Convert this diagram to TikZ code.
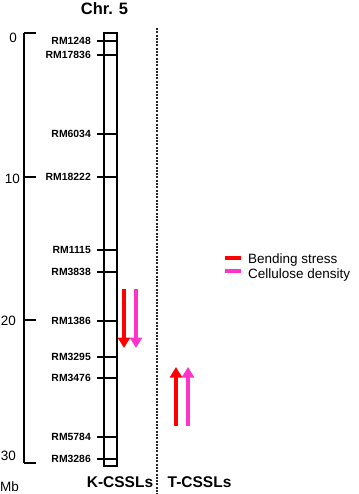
\documentclass[tikz,border=0pt]{standalone}
\usepackage{fontspec}
\setmainfont{Liberation Sans}
\usetikzlibrary{arrows.meta}
\definecolor{qred}{RGB}{255,0,0}
\definecolor{qpink}{RGB}{255,51,204}
\tikzset{
  axisline/.style={line width=1.2pt,black},
  mlabel/.style={anchor=east,inner sep=0pt,font=\fontsize{10.4}{11}\selectfont\bfseries},
  numlabel/.style={anchor=east,inner sep=0pt,font=\fontsize{13.5}{14}\selectfont},
  titlelabel/.style={inner sep=0pt,font=\fontsize{15.5}{17}\selectfont\bfseries},
  legtext/.style={anchor=base west,inner sep=0pt,font=\fontsize{13.5}{15}\selectfont},
  bigarrow/.style={line width=4.5pt,-{Triangle[width=12pt,length=10.5pt]}},
  legbar/.style={line width=4pt},
}
\begin{document}
\begin{tikzpicture}[x=1pt,y=-1pt]
\useasboundingbox (0,0) rectangle (358,494);
% title
\node[titlelabel,font=\fontsize{16.5}{18}\selectfont\bfseries] (title) at (104.5,8.5) {Chr.\hspace{6pt}5};
% Mb axis
\coordinate (atop) at (24,33);
\coordinate (abot) at (24,463);
\draw[axisline] (atop) -- (abot);
\foreach \yy/\name in {33/t0,177/t10,320/t20,463/t30}{
  \coordinate (\name a) at (24,\yy);
  \coordinate (\name b) at (36,\yy);
  \draw[axisline] (\name a) -- (\name b);
}
\node[numlabel] (n0) at (17,38) {0};
\node[numlabel] (n10) at (20,179) {10};
\node[numlabel] (n20) at (16,321) {20};
\node[numlabel] (n30) at (16,456) {30};
\node[numlabel,anchor=west] (mb) at (0,487) {Mb};
% chromosome box
\draw[axisline] (104,33) rectangle (117,466);
\foreach \yy/\lab in {41/RM1248,55/RM17836,134/RM6034,177/RM18222,250/RM1115,272/RM3838,321/RM1386,357/RM3295,378/RM3476,437/RM5784,459/RM3286}{
  \node[mlabel] (\lab) at (91,\yy) {\lab};
  \coordinate (\lab l) at (97,\yy);
  \coordinate (\lab r) at (117,\yy);
  \draw[axisline] (\lab l) -- (\lab r);
}
% dashed separator
\coordinate (dtop) at (157,28);
\coordinate (dbot) at (157,494);
\draw[line width=1.2pt,dash pattern=on 2pt off 1.3pt,black!85] (dtop) -- (dbot);
% bottom labels
\node[titlelabel] (kc) at (120,482.5) {K-CSSLs};
\node[titlelabel] (tc) at (199.5,482.5) {T-CSSLs};
% arrows
\coordinate (kr1) at (124,289); \coordinate (kr2) at (124,348);
\coordinate (kp1) at (136,289); \coordinate (kp2) at (136,348);
\coordinate (tr1) at (176,426); \coordinate (tr2) at (176,367);
\coordinate (tp1) at (188,426); \coordinate (tp2) at (188,367);
\draw[bigarrow,qred] (kr1) -- (kr2);
\draw[bigarrow,qpink] (kp1) -- (kp2);
\draw[bigarrow,qred] (tr1) -- (tr2);
\draw[bigarrow,qpink] (tp1) -- (tp2);
% legend
\coordinate (lr1) at (225,258); \coordinate (lr2) at (241,258);
\coordinate (lp1) at (225,270.5); \coordinate (lp2) at (241,270.5);
\draw[legbar,qred] (lr1) -- (lr2);
\draw[legbar,qpink] (lp1) -- (lp2);
\node[legtext] (lbend) at (248,263) {Bending stress};
\node[legtext] (lcell) at (248,278) {Cellulose density};
\end{tikzpicture}
\end{document}
